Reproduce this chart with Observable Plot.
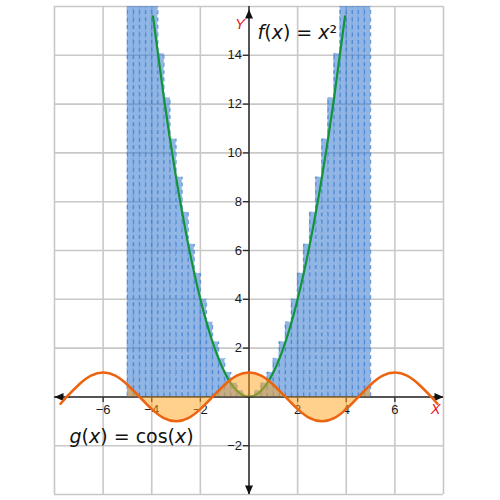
<!DOCTYPE html>
<html>
<head>
<meta charset="utf-8">
<script src="https://cdn.jsdelivr.net/npm/d3@7"></script>
<script src="https://cdn.jsdelivr.net/npm/@observablehq/plot@0.6"></script>
<style>
  html, body { margin: 0; padding: 0; background: #fff; }
</style>
</head>
<body>
<div id="chart"></div>
<script>
// ---- data ----
const gridX = [-8, -6, -4, -2, 0, 2, 4, 6, 8];
const gridY = [-4, -2, 0, 2, 4, 6, 8, 10, 12, 14, 16];
const xTickValues = [-6, -4, -2, 2, 4, 6];
const yTickValues = [-2, 2, 4, 6, 8, 10, 12, 14];

const barEdges = [-5, -4.75, -4.5, -4.25, -4, -3.75, -3.5, -3.25, -3, -2.75, -2.5, -2.25, -2, -1.75, -1.5, -1.25, -1, -0.75, -0.5, -0.25, 0,
  0.25, 0.5, 0.75, 1, 1.25, 1.5, 1.75, 2, 2.25, 2.5, 2.75, 3, 3.25, 3.5, 3.75, 4, 4.25, 4.5, 4.75, 5];
const barHeights = [25, 22.56, 20.25, 18.06, 16, 14.06, 12.25, 10.56, 9, 7.56, 6.25, 5.06, 4, 3.06, 2.25, 1.56, 1, 0.56, 0.25, 0.06,
  0.06, 0.25, 0.56, 1, 1.56, 2.25, 3.06, 4, 5.06, 6.25, 7.56, 9, 10.56, 12.25, 14.06, 16, 18.06, 20.25, 22.56, 25];

const fX = [-3.95, -3.5, -3, -2.5, -2, -1.5, -1, -0.5, 0, 0.5, 1, 1.5, 2, 2.5, 3, 3.5, 3.95];
const fY = [15.6, 12.25, 9, 6.25, 4, 2.25, 1, 0.25, 0, 0.25, 1, 2.25, 4, 6.25, 9, 12.25, 15.6];

const gX = [-7.75, -7.5, -7, -6.5, -6, -5.5, -5, -4.5, -4, -3.5, -3, -2.5, -2, -1.5, -1, -0.5, 0,
  0.5, 1, 1.5, 2, 2.5, 3, 3.5, 4, 4.5, 5, 5.5, 6, 6.5, 7, 7.5, 7.75];
const gY = [-0.28, 0, 0.5, 0.87, 1, 0.87, 0.5, 0, -0.5, -0.87, -1, -0.87, -0.5, 0, 0.5, 0.87, 1,
  0.87, 0.5, 0, -0.5, -0.87, -1, -0.87, -0.5, 0, 0.5, 0.87, 1, 0.87, 0.5, 0, -0.28];
const fillRange = [-5, 5];

const fLabel = "f(x) = x²";
const gLabel = "g(x) = cos(x)";

// ---- derived tables ----
const bars = barHeights.map((h, i) => ({x1: barEdges[i], x2: barEdges[i + 1], h}));
const edges = barEdges.map((x, i) => ({x, h: Math.max(barHeights[i - 1] ?? 0, barHeights[i] ?? 0)}));
const fPts = fX.map((x, i) => ({x, y: fY[i]}));
const gPts = gX.map((x, i) => ({x, y: gY[i]}));
const gFill = gPts.filter(d => d.x >= fillRange[0] && d.x <= fillRange[1]);
const xMin = d3.min(gridX), xMax = d3.max(gridX), yMin = d3.min(gridY), yMax = d3.max(gridY);
const fmt = d => d < 0 ? "\u2212" + Math.abs(d) : String(d);

// ---- custom symbols ----
const sym = (f) => ({draw: f});
const tickDown = sym(c => { c.moveTo(0, 0); c.lineTo(0, 5); });
const tickLeft = sym(c => { c.moveTo(0, 0); c.lineTo(-6, 0); });
const arrowRight = sym(c => { c.moveTo(0, 0); c.lineTo(-9, -4); c.lineTo(-9, 4); c.closePath(); });
const arrowLeft = sym(c => { c.moveTo(0, 0); c.lineTo(9, -4); c.lineTo(9, 4); c.closePath(); });
const arrowUp = sym(c => { c.moveTo(0, 0); c.lineTo(-4, 9); c.lineTo(4, 9); c.closePath(); });
const arrowDown = sym(c => { c.moveTo(0, 0); c.lineTo(-4, -9); c.lineTo(4, -9); c.closePath(); });

const axisColor = "#2b2b2b";
const gridColor = "#c8c8c8";

const plot = Plot.plot({
  width: 500,
  height: 500,
  marginLeft: 54,
  marginRight: 57,
  marginTop: 6,
  marginBottom: 6,
  x: {domain: [xMin, xMax], axis: null},
  y: {domain: [yMin, yMax], axis: null},
  style: {fontFamily: "'Liberation Sans', Arial, sans-serif", background: "#ffffff", overflow: "visible"},
  marks: [
    Plot.ruleX(gridX, {x: d => d, stroke: gridColor, strokeWidth: 1.6}),
    Plot.ruleY(gridY, {y: d => d, stroke: gridColor, strokeWidth: 1.6}),
    Plot.rect(bars, {x1: "x1", x2: "x2", y1: 0, y2: "h", fill: "#3d7fd1", fillOpacity: 0.57,
      stroke: "#6b9fdc", strokeOpacity: 0.5, strokeWidth: 1, strokeDasharray: "3,3", clip: true}),
    Plot.ruleX(edges, {x: "x", y1: 0, y2: "h", stroke: "#3a7ccf", strokeOpacity: 0.7, strokeWidth: 1.3, strokeDasharray: "4,3.5", clip: true}),
    Plot.line(fPts, {x: "x", y: "y", stroke: "#12943a", strokeWidth: 2.2, curve: "natural", clip: true}),
    Plot.ruleX([0], {x: d => d, stroke: axisColor, strokeWidth: 1.5}),
    Plot.ruleY([0], {y: d => d, stroke: axisColor, strokeWidth: 1.5}),
    Plot.dot(xTickValues, {x: d => d, y: () => 0, symbol: tickDown, stroke: axisColor, strokeWidth: 1.3, fill: "none"}),
    Plot.dot(yTickValues, {x: () => 0, y: d => d, symbol: tickLeft, stroke: axisColor, strokeWidth: 1.3, fill: "none"}),
    Plot.dot([xMax], {x: d => d, y: () => 0, symbol: arrowRight, fill: "#111", stroke: "none"}),
    Plot.dot([xMin], {x: d => d, y: () => 0, symbol: arrowLeft, fill: "#111", stroke: "none"}),
    Plot.dot([yMax], {x: () => 0, y: d => d, symbol: arrowUp, fill: "#111", stroke: "none", dy: 3}),
    Plot.dot([yMin], {x: () => 0, y: d => d, symbol: arrowDown, fill: "#111", stroke: "none"}),
    Plot.text(xTickValues, {x: d => d, y: () => 0, text: fmt, dy: 13, fontSize: 13, fill: "#1a1a1a", lineAnchor: "middle", textAnchor: "middle"}),
    Plot.text(yTickValues, {x: () => 0, y: d => d, text: fmt, dx: -7, fontSize: 13, fill: "#1a1a1a", lineAnchor: "middle", textAnchor: "end"}),
    Plot.areaY(gFill, {x: "x", y1: 0, y2: "y", fill: "#ffa41c", fillOpacity: 0.5, curve: "natural"}),
    Plot.line(gPts, {x: "x", y: "y", stroke: "#ec6410", strokeWidth: 2.6, curve: "natural"}),
    Plot.text(["Y"], {frameAnchor: "top-left", dx: 185.5, dy: 18, text: d => d, fill: "#e3141b", fontSize: 15, fontStyle: "italic", textAnchor: "middle", lineAnchor: "middle"}),
    Plot.text(["X"], {frameAnchor: "top-left", dx: 381, dy: 403, text: d => d, fill: "#e3141b", fontSize: 14.5, fontStyle: "italic", textAnchor: "middle", lineAnchor: "middle"}),
    Plot.text([fLabel], {frameAnchor: "top-left", dx: 203, dy: 26, text: d => d, fill: "#111", fontSize: 19, fontFamily: "'DejaVu Sans', sans-serif", textAnchor: "start", lineAnchor: "middle"}),
    Plot.text([gLabel], {frameAnchor: "bottom-left", dx: 15, dy: -58, text: d => d, fill: "#111", fontSize: 19, fontFamily: "'DejaVu Sans', sans-serif", textAnchor: "start", lineAnchor: "middle"})
  ]
});

// rich text (italic variables) for the function labels
function richText(svg, plain, parts) {
  svg.querySelectorAll("text").forEach(t => {
    if (t.textContent === plain) {
      t.textContent = "";
      for (const [s, italic] of parts) {
        const ts = document.createElementNS("http://www.w3.org/2000/svg", "tspan");
        ts.textContent = s;
        if (italic) ts.setAttribute("font-style", "italic");
        t.appendChild(ts);
      }
    }
  });
}
richText(plot, fLabel, [["f", true], ["(", false], ["x", true], [") = ", false], ["x", true], ["²", false]]);
richText(plot, gLabel, [["g", true], ["(", false], ["x", true], [") = cos(", false], ["x", true], [")", false]]);

document.getElementById("chart").appendChild(plot);
</script>
</body>
</html>
